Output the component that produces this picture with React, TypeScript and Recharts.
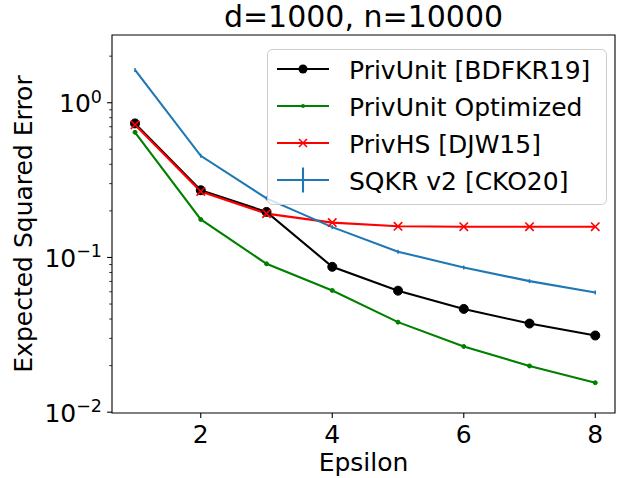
import React from "react";
import {
  LineChart,
  Line,
  XAxis,
  YAxis,
  Legend,
  ReferenceArea,
  Customized,
} from "recharts";

const epsilons = [1, 2, 3, 4, 5, 6, 7, 8];
const privUnit = [0.735, 0.272, 0.197, 0.087, 0.061, 0.0465, 0.0374, 0.0313];
const privUnitOpt = [0.644, 0.176, 0.091, 0.0612, 0.0382, 0.0266, 0.0199, 0.0155];
const privHS = [0.72, 0.267, 0.192, 0.168, 0.159, 0.158, 0.158, 0.158];
const sqkr = [1.63, 0.454, 0.241, 0.157, 0.109, 0.0861, 0.0703, 0.0594];

const xTicks = [2, 4, 6, 8];
const yTicks = [
  0.01, 0.02, 0.03, 0.04, 0.05, 0.06, 0.07, 0.08, 0.09,
  0.1, 0.2, 0.3, 0.4, 0.5, 0.6, 0.7, 0.8, 0.9,
  1, 2,
];

const legendLabels = [
  "PrivUnit [BDFKR19]",
  "PrivUnit Optimized",
  "PrivHS [DJW15]",
  "SQKR v2 [CKO20]",
];

const FONT = "DejaVu Sans";
const BLACK = "#000000";
const GREEN = "#008000";
const RED = "#ff0000";
const BLUE = "#1f77b4";

const data = epsilons.map((e, i) => ({
  eps: e,
  privUnit: privUnit[i],
  privUnitOpt: privUnitOpt[i],
  privHS: privHS[i],
  sqkr: sqkr[i],
}));

const YTick = (props: any) => {
  const { x, y, payload } = props;
  const v = payload.value;
  const lg = Math.log10(v);
  const exp = Math.round(lg);
  const major = Math.abs(lg - exp) < 1e-6;
  return (
    <g>
      <line
        x1={x}
        x2={x - (major ? 4.9 : 2.8)}
        y1={y}
        y2={y}
        stroke="#000"
        strokeWidth={major ? 1.1 : 0.8}
      />
      {major && (
        <text x={x - 10} y={y + 9.5} textAnchor="end" fontSize={25} fontFamily={FONT} fill="#000">
          <tspan>10</tspan>
          <tspan dy={-9.5} fontSize={17.5}>
            {exp < 0 ? "\u2212" + Math.abs(exp) : String(exp)}
          </tspan>
        </text>
      )}
    </g>
  );
};

const XTick = (props: any) => {
  const { x, y, payload } = props;
  return (
    <g>
      <line x1={x} x2={x} y1={y} y2={y + 4.9} stroke="#000" strokeWidth={1.1} />
      <text x={x} y={y + 29.5} textAnchor="middle" fontSize={25} fontFamily={FONT} fill="#000">
        {payload.value}
      </text>
    </g>
  );
};

const circleDot = (r: number, color: string) => (p: any) => (
  <circle key={p.key ?? p.index} cx={p.cx} cy={p.cy} r={r} fill={color} stroke={color} strokeWidth={1} />
);

const crossDot = (p: any) => (
  <g key={p.key ?? p.index}>
    <line x1={p.cx - 4.2} y1={p.cy - 4.2} x2={p.cx + 4.2} y2={p.cy + 4.2} stroke={RED} strokeWidth={1.6} />
    <line x1={p.cx - 4.2} y1={p.cy + 4.2} x2={p.cx + 4.2} y2={p.cy - 4.2} stroke={RED} strokeWidth={1.6} />
  </g>
);

const barDot = (p: any) => (
  <line key={p.key ?? p.index} x1={p.cx} x2={p.cx} y1={p.cy - 2} y2={p.cy + 2} stroke={BLUE} strokeWidth={1.5} />
);

const LegendBox = () => {
  const rows = [20, 57, 94, 131];
  const colors = [BLACK, GREEN, RED, BLUE];
  return (
    <svg width={340} height={156} style={{ display: "block" }}>
      <rect x={0.5} y={0.5} width={339} height={155} rx={5} ry={5} fill="rgba(255,255,255,0.8)" stroke="#cccccc" strokeWidth={1} />
      {rows.map((cy, i) => (
        <g key={i}>
          <line x1={10} x2={62} y1={cy} y2={cy} stroke={colors[i]} strokeWidth={2.1} />
          {i === 0 && <circle cx={36} cy={cy} r={4.5} fill={BLACK} />}
          {i === 1 && <circle cx={36} cy={cy} r={2} fill={GREEN} />}
          {i === 2 && (
            <g>
              <line x1={32} y1={cy - 4} x2={40} y2={cy + 4} stroke={RED} strokeWidth={1.6} />
              <line x1={32} y1={cy + 4} x2={40} y2={cy - 4} stroke={RED} strokeWidth={1.6} />
            </g>
          )}
          {i === 3 && <line x1={36} x2={36} y1={cy - 12.5} y2={cy + 12.5} stroke={BLUE} strokeWidth={2.1} />}
          <text x={82} y={cy + 10} fontSize={25} fontFamily={FONT} fill="#000">
            {legendLabels[i]}
          </text>
        </g>
      ))}
    </svg>
  );
};

const Title = () => (
  <g>
    <text x={363.5} y={27} textAnchor="middle" fontSize={30} fontFamily={FONT} fill="#000">
      d=1000, n=10000
    </text>
    <text x={363.5} y={471} textAnchor="middle" fontSize={25} fontFamily={FONT} fill="#000">
      Epsilon
    </text>
    <text
      x={32}
      y={224}
      transform="rotate(-90, 32, 224)"
      textAnchor="middle"
      fontSize={25}
      fontFamily={FONT}
      fill="#000"
    >
      Expected Squared Error
    </text>
  </g>
);

export default function App() {
  return (
    <div style={{ position: "absolute", left: 0, top: 0, width: 622, height: 478, background: "#fff" }}>
      <LineChart
        width={622}
        height={478}
        data={data}
        margin={{ top: 35, right: 7, bottom: 0, left: 0 }}
      >
        <XAxis
          dataKey="eps"
          type="number"
          domain={[0.65, 8.3]}
          ticks={xTicks}
          allowDataOverflow
          height={65}
          tickSize={0}
          tickMargin={0}
          tickLine={false}
          axisLine={false}
          tick={<XTick />}
        />
        <YAxis
          type="number"
          scale="log"
          domain={[0.00988, 2.74]}
          ticks={yTicks}
          allowDataOverflow
          width={112}
          tickSize={0}
          tickMargin={0}
          tickLine={false}
          axisLine={false}
          tick={<YTick />}
          interval={0}
        />
        <ReferenceArea
          x1={0.65}
          x2={8.3}
          y1={0.00988}
          y2={2.74}
          fill="none"
          fillOpacity={0}
          stroke="#000"
          strokeWidth={1.1}
          strokeOpacity={1}
        />
        <Line
          dataKey="privUnit"
          stroke={BLACK}
          strokeWidth={2.1}
          dot={circleDot(4.5, BLACK)}
          activeDot={false}
          isAnimationActive={false}
        />
        <Line
          dataKey="privUnitOpt"
          stroke={GREEN}
          strokeWidth={2.1}
          dot={circleDot(2, GREEN)}
          activeDot={false}
          isAnimationActive={false}
        />
        <Line
          dataKey="privHS"
          stroke={RED}
          strokeWidth={2.1}
          dot={crossDot}
          activeDot={false}
          isAnimationActive={false}
        />
        <Line
          dataKey="sqkr"
          stroke={BLUE}
          strokeWidth={2.1}
          dot={barDot}
          activeDot={false}
          isAnimationActive={false}
        />
        <Legend
          layout="horizontal"
          verticalAlign="middle"
          align="center"
          content={() => <LegendBox />}
          wrapperStyle={{ position: "absolute", left: 267, top: 49, width: 340, height: 156 }}
        />
        <Customized component={Title} />
      </LineChart>
    </div>
  );
}
